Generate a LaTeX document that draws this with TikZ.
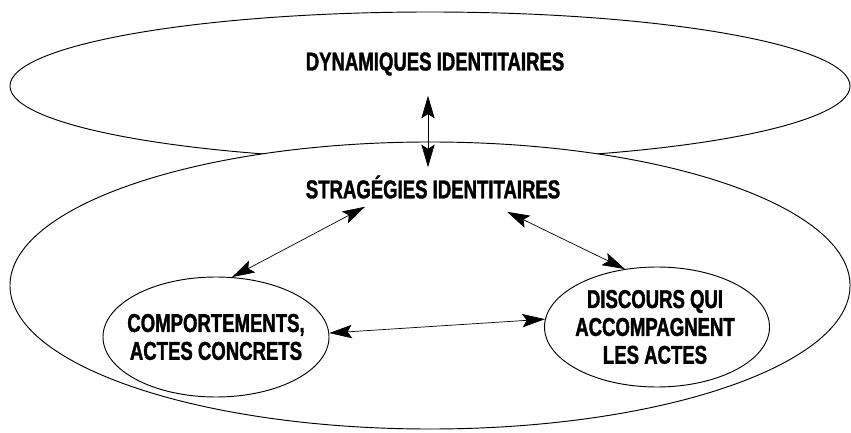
\documentclass[tikz,border=0pt]{standalone}
\usepackage{fontspec}
\newfontfamily\lblfont[FakeStretch=0.72,FakeBold=1.4]{Liberation Sans Bold}
\usetikzlibrary{shapes.geometric,arrows.meta}
\begin{document}
\begin{tikzpicture}[x=0.03cm,y=-0.03cm,
   zone/.style={draw,ellipse,line width=0.8pt,inner sep=0pt},
   lbl/.style={font=\lblfont\fontsize{22}{23.8}\selectfont,align=center,inner sep=0pt},
   biarrow/.style={line width=0.6pt,{Stealth[length=6.8mm,width=4mm,inset=1.3mm]}-{Stealth[length=6.8mm,width=4mm,inset=1.3mm]}}]
   \useasboundingbox (0,0) rectangle (851,433);
   \node[zone,minimum width=25.2cm,minimum height=4.44cm] (dynzone) at (430,86) {};
   \node[zone,fill=white,minimum width=25.2cm,minimum height=8.61cm] (stratzone) at (430,285.5) {};
   \node[lbl] (dyn) at (435,64) {DYNAMIQUES IDENTITAIRES};
   \node[lbl] (strat) at (433,187) {STRAGÉGIES IDENTITAIRES};
   \node[zone,minimum width=6.78cm,minimum height=3.6cm] (leftzone) at (216,337) {};
   \node[lbl] (comp) at (leftzone) {COMPORTEMENTS,\\ACTES CONCRETS};
   \node[zone,minimum width=6.75cm,minimum height=3.6cm] (rightzone) at (657,327) {};
   \node[lbl] (disc) at ([xshift=-0.06cm]rightzone) {DISCOURS QUI\\ACCOMPAGNENT\\LES ACTES};
   \draw[biarrow] ([shift={(-7,20)}]dyn.south) -- ([shift={(-5,-8)}]strat.north);
   \draw[biarrow] ([shift={(-68,8)}]strat.south) -- (leftzone.75);
   \draw[biarrow] ([shift={(74,13)}]strat.south) -- (rightzone.119);
   \draw[biarrow] (leftzone.2) -- (rightzone.176);
\end{tikzpicture}
\end{document}
